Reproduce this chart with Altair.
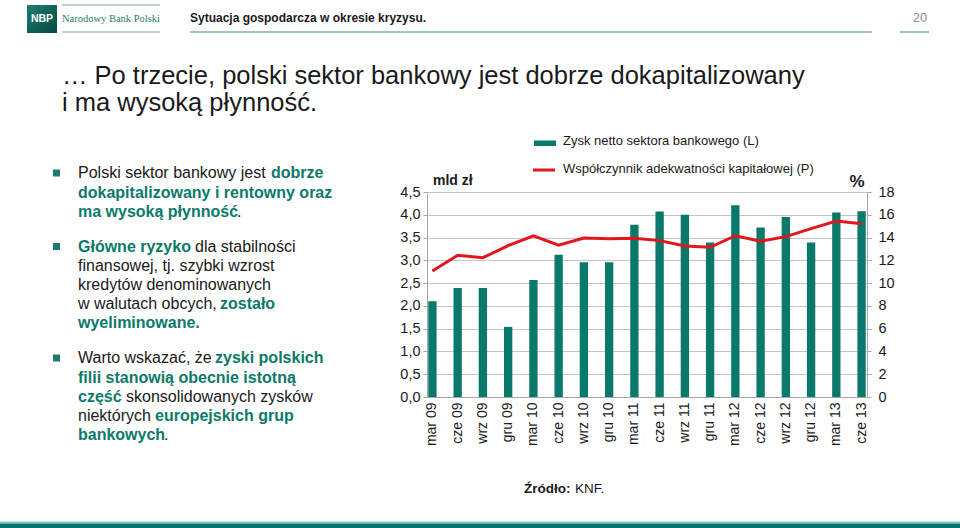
import altair as alt
import pandas as pd

# ---------------- data ----------------
months = ["mar 09", "cze 09", "wrz 09", "gru 09", "mar 10", "cze 10", "wrz 10", "gru 10",
          "mar 11", "cze 11", "wrz 11", "gru 11", "mar 12", "cze 12", "wrz 12", "gru 12",
          "mar 13", "cze 13"]
profit = [2.10, 2.39, 2.39, 1.54, 2.57, 3.12, 2.96, 2.96, 3.78, 4.07, 4.00, 3.39,
          4.21, 3.72, 3.95, 3.39, 4.05, 4.08]
car = [11.06, 12.44, 12.23, 13.30, 14.16, 13.34, 13.96, 13.90, 13.93, 13.73, 13.26, 13.14,
       14.16, 13.67, 14.08, 14.78, 15.45, 15.22]
left_ticks = [0, 0.5, 1.0, 1.5, 2.0, 2.5, 3.0, 3.5, 4.0, 4.5]
right_ticks = [0, 2, 4, 6, 8, 10, 12, 14, 16, 18]

legend_bar = "Zysk netto sektora bankowego (L)"
legend_line = "Współczynnik adekwatności kapitałowej (P)"
unit_left = "mld zł"
unit_right = "%"
header = "Sytuacja gospodarcza w okresie kryzysu."
page_no = "20"
logo_short = "NBP"
logo_long = "Narodowy Bank Polski"
title_lines = ["… Po trzecie, polski sektor bankowy jest dobrze dokapitalizowany",
               "i ma wysoką płynność."]
source_bold = "Źródło:"
source_rest = "KNF."

# bullet text segments: (line y, segment x, text, emphasised)
bullet_segments = [
    (173, 78, "Polski sektor bankowy jest", False), (173, 271, "dobrze", True),
    (192.5, 78, "dokapitalizowany i rentowny oraz", True),
    (211.5, 78, "ma wysoką płynność", True), (211.5, 237, ".", False),
    (246.5, 78, "Główne ryzyko", True), (246.5, 195, "dla stabilności", False),
    (266, 78, "finansowej, tj. szybki wzrost", False),
    (285, 78, "kredytów denominowanych", False),
    (304, 78, "w walutach obcych,", False), (304, 220, "zostało", True),
    (323, 78, "wyeliminowane.", True),
    (358, 78, "Warto wskazać, że", False), (358, 215, "zyski polskich", True),
    (377.5, 78, "filii stanowią obecnie istotną", True),
    (397, 78, "część", True), (397, 126, "skonsolidowanych zysków", False),
    (416, 78, "niektórych", False), (416, 155, "europejskich grup", True),
    (435, 78, "bankowych", True), (435, 164, ".", False),
]
bullet_rows = [173, 246.5, 358]

# ---------------- style ----------------
TEAL = "#08796A"
TEAL_TXT = "#0B7A68"
RED = "#E3161C"
DARK = "#1A1A1A"
GRID = "#C4C4C4"
SANS = "Liberation Sans, Arial, sans-serif"
SERIF = "Liberation Serif, Times New Roman, serif"

OX, OY = 427, 192      # plot origin on the page
W, H = 440, 205

df = pd.DataFrame({"m": months, "profit": profit, "car": car})
one = alt.Data(values=[{"k": 1}])

xenc = alt.X("m:N", sort=months, title=None,
             scale=alt.Scale(paddingInner=0.67, paddingOuter=0.05),
             axis=alt.Axis(labelAngle=-90, labelAlign="right", labelBaseline="middle",
                           labelFont=SANS, labelFontSize=14, labelColor=DARK,
                           labelPadding=5, ticks=False, domainColor="#A6A6A6",
                           labelOverlap=False))

bars = alt.Chart(df).mark_bar(color=TEAL).encode(
    x=xenc,
    y=alt.Y("profit:Q", title=None,
            scale=alt.Scale(domain=[0, 4.5], nice=False, zero=True),
            axis=alt.Axis(values=left_ticks, orient="left", grid=True, gridColor=GRID,
                          gridWidth=1, domainColor="#A6A6A6", tickColor="#A6A6A6",
                          tickSize=4, labelPadding=3, labelFont=SANS, labelFontSize=14.5,
                          labelColor=DARK,
                          labelExpr="replace(format(datum.value, '.1f'), '.', ',')")),
)

line = alt.Chart(df).mark_line(color=RED, strokeWidth=3).encode(
    x=alt.X("m:N", sort=months, bandPosition=0.5),
    y=alt.Y("car:Q", title=None,
            scale=alt.Scale(domain=[0, 18], nice=False, zero=True),
            axis=alt.Axis(values=right_ticks, orient="right", grid=False,
                          domainColor="#A6A6A6", tickColor="#A6A6A6", tickSize=4,
                          labelPadding=7, labelFont=SANS, labelFontSize=14.5,
                          labelColor=DARK, format="d")),
)


def txt(x, y, s, size, color=DARK, weight="normal", font=SANS, align="left"):
    return alt.Chart(one).mark_text(
        align=align, baseline="middle", font=font, fontSize=size,
        fontWeight=weight, color=color,
    ).encode(x=alt.value(x - OX), y=alt.value(y - OY), text=alt.value(s))


def box(x1, x2, y1, y2, fill):
    return alt.Chart(one).mark_rect(fill=fill).encode(
        x=alt.value(x1 - OX), x2=alt.value(x2 - OX),
        y=alt.value(y1 - OY), y2=alt.value(y2 - OY))


def hline(x1, x2, y, color, width):
    return alt.Chart(one).mark_rule(color=color, strokeWidth=width).encode(
        x=alt.value(x1 - OX), x2=alt.value(x2 - OX), y=alt.value(y - OY))


deco = []
# header
deco.append(alt.Chart(one).mark_rect(
    fill=alt.Gradient(gradient="linear", x1=0, y1=0, x2=1, y2=1,
                      stops=[alt.GradientStop(color="#1F7F70", offset=0),
                             alt.GradientStop(color="#04473E", offset=1)])
).encode(x=alt.value(27 - OX), x2=alt.value(57 - OX), y=alt.value(5 - OY), y2=alt.value(33 - OY)))
deco.append(txt(42, 19, logo_short, 10.5, "white", "bold", SANS, "center"))
deco.append(txt(62, 18.5, logo_long, 10.5, "#2A7C6C", "normal", SERIF))
deco.append(hline(62, 160, 5, "#A9C6C0", 1.5))
deco.append(hline(62, 160, 32, "#A9C6C0", 1.5))
deco.append(txt(190, 18, header, 12, DARK, "bold", SANS))
deco.append(hline(190, 872, 32, "#86ADA6", 1.5))
deco.append(txt(920, 18, page_no, 13, "#8C8C8C", "normal", SANS, "center"))
deco.append(hline(900, 929, 32, "#86ADA6", 1.5))
# title
deco.append(txt(62, 76, title_lines[0], 25.5, DARK, "normal", SANS))
deco.append(txt(62, 103, title_lines[1], 25.5, DARK, "normal", SANS))
# bullets
for yb in bullet_rows:
    deco.append(box(53, 60, yb - 3.5, yb + 3.5, "#1F7B6D"))
for (yy, xx, s, emph) in bullet_segments:
    deco.append(txt(xx, yy, s, 16, TEAL_TXT if emph else DARK,
                    "bold" if emph else "normal", SANS))
# legend & units
deco.append(box(534, 556, 140.5, 146, TEAL))
deco.append(txt(563, 141, legend_bar, 13, DARK))
deco.append(hline(533, 555, 170, RED, 3))
deco.append(txt(563, 169, legend_line, 13, DARK))
deco.append(txt(433, 181, unit_left, 14, DARK, "bold"))
deco.append(txt(857, 182, unit_right, 17, DARK, "bold", SANS, "center"))
# source
deco.append(txt(524, 489, source_bold, 13.5, DARK, "bold", SANS))
deco.append(txt(575, 489, source_rest, 13.5, DARK, "normal", SANS))
# bottom band
deco.append(box(0, 960, 521.5, 523.5, "#8CC7BC"))
deco.append(box(0, 960, 523.5, 528, "#00776A"))

chart = alt.layer(bars, line, *deco).resolve_scale(y="independent").properties(
    width=W, height=H,
    autosize=alt.AutoSizeParams(type="none"),
    padding={"left": OX, "top": OY, "right": 960 - OX - W, "bottom": 528 - OY - H},
    background="white",
).configure_view(stroke=None)

chart.save("out.html", embed_options={"renderer": "svg", "actions": False})
